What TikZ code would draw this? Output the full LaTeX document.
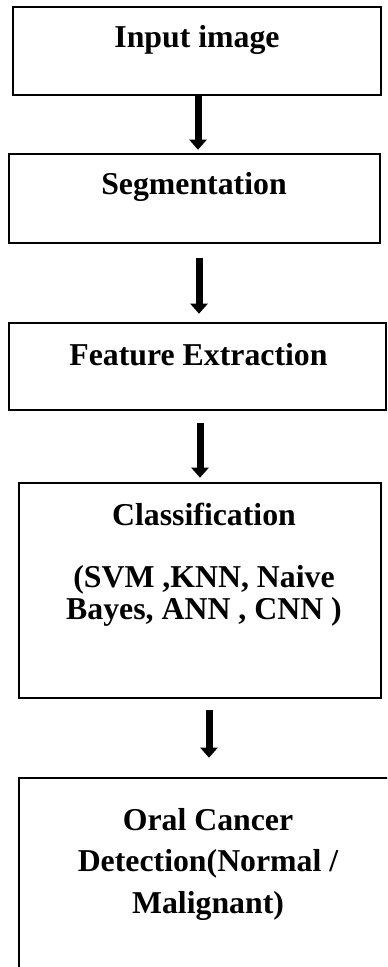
\documentclass[tikz,border=0pt]{standalone}
\usepackage{fontspec}
\setmainfont{Liberation Serif}
\usetikzlibrary{arrows.meta}

\tikzset{
  box/.style={draw, line width=1.3pt, rectangle, inner sep=0pt},
  lbl/.style={font=\bfseries\fontsize{15.9}{16}\selectfont, align=center, inner sep=0pt},
  flow/.style={line width=3.5pt, -{Triangle[width=8.5pt,length=5pt]}}
}

\begin{document}
\begin{tikzpicture}[x=0.5pt,y=-0.5pt]
\clip (0,0) rectangle (387,967);

% boxes
\node [box, minimum width=184pt, minimum height=44pt] (b1) at (197,51) {};
\node [box, minimum width=185.5pt, minimum height=44.5pt] (b2) at (194.5,198.5) {};
\node [box, minimum width=188.5pt, minimum height=43.5pt] (b3) at (197.5,366.5) {};
\node [box, minimum width=181pt, minimum height=107.5pt] (b4) at (200,590.5) {};
\node [box, minimum width=190.5pt, minimum height=111pt] (b5) at (209.5,889) {};

% texts (base = last line)
\node [lbl, anchor=base] (t1) at (197,48) {Input image};
\node [lbl, anchor=base] (t2) at (194,195) {Segmentation};
\node [lbl, anchor=base] (t3) at (198.5,365) {Feature Extraction};
\node [lbl, anchor=base] (t4) at (204,619) {Classification\\[15pt](SVM ,KNN, Naive\\Bayes, ANN , CNN )};
\node [lbl, anchor=base, font=\bfseries\fontsize{15.9}{20.75}\selectfont] (t5) at (208,913) {Oral Cancer\\Detection(Normal /\\Malignant)};

% arrows
\coordinate (a1) at (198,94);
\coordinate (a2) at (199,258);
\coordinate (a3) at (200,423);
\coordinate (a4) at (209,710);
\draw [flow, shorten >=1.5pt] (a1) -- (a1 |- b2.north);
\draw [flow, shorten >=4pt] (a2) -- (a2 |- b3.north);
\draw [flow, shorten >=2pt] (a3) -- (a3 |- b4.north);
\draw [flow, shorten >=9.5pt] (a4) -- (a4 |- b5.north);

\end{tikzpicture}
\end{document}
